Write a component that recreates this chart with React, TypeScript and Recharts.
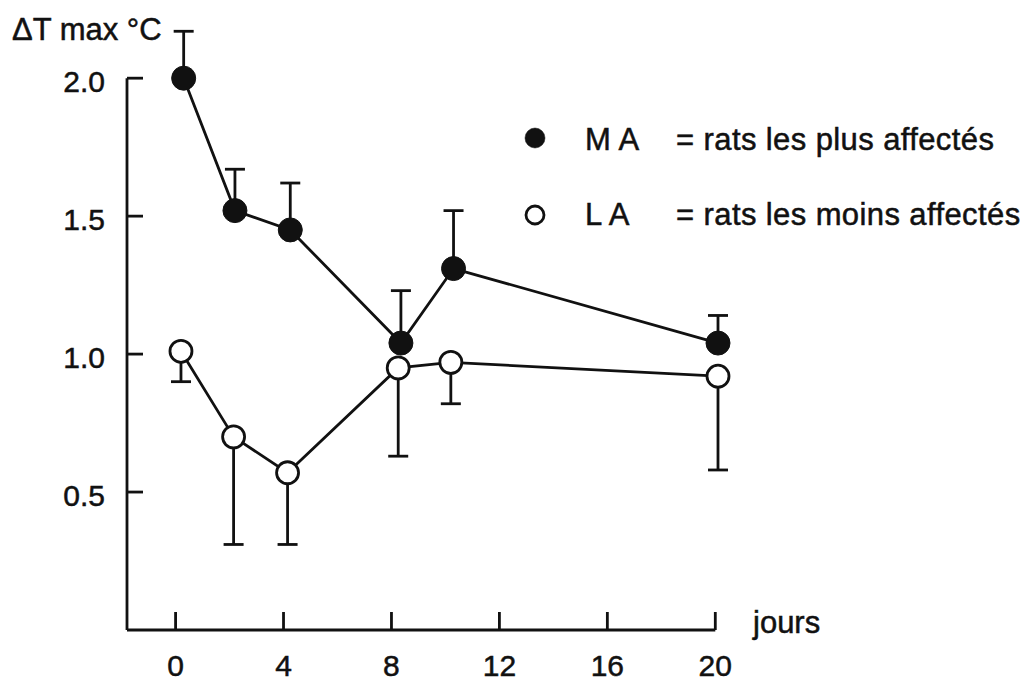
import React from "react";
import { LineChart, Line, XAxis, YAxis, ErrorBar, ReferenceLine, Legend, Label } from "recharts";

const font = '"Liberation Sans", Arial, Helvetica, sans-serif';
const ink = "#111";
const textStyle = { stroke: ink, strokeWidth: 0.5 };

// x ticks (jours) and y ticks (ΔT max °C)
const dayTicks = [0, 4, 8, 12, 16, 20];
const deltaTicks = [0.5, 1.0, 1.5, 2.0];

// MA = rats les plus affectés (error bar upward)
const maDays = [0.3, 2.2, 4.25, 8.35, 10.3, 20.1];
const maDelta = [2.0, 1.52, 1.45, 1.04, 1.31, 1.04];
const maErr = [0.17, 0.15, 0.17, 0.19, 0.21, 0.1];

// LA = rats les moins affectés (error bar downward)
const laDays = [0.2, 2.15, 4.15, 8.25, 10.2, 20.1];
const laDelta = [1.01, 0.7, 0.57, 0.95, 0.97, 0.92];
const laErr = [0.11, 0.39, 0.26, 0.32, 0.15, 0.34];

const maData = maDays.map((d, i) => ({ day: d, delta: maDelta[i], err: [0, maErr[i]] }));
const laData = laDays.map((d, i) => ({ day: d, delta: laDelta[i], err: [laErr[i], 0] }));

const X_MIN = -1.8;
const X_MAX = 20.1;

const YTick = ({ x, y, payload }: any) => (
  <g>
    <line x1={x} y1={y} x2={x + 16} y2={y} stroke={ink} strokeWidth={2.8} />
    <text x={x - 22} y={y + 14} textAnchor="end" fontSize={30} fontFamily={font} fill={ink} style={textStyle}>
      {Number(payload.value).toFixed(1)}
    </text>
  </g>
);

const XTick = ({ x, y, payload }: any) => (
  <g>
    <line x1={x} y1={y} x2={x} y2={y - 18} stroke={ink} strokeWidth={2.8} />
    <text x={x} y={y + 46} textAnchor="middle" fontSize={30} fontFamily={font} fill={ink} style={textStyle}>
      {payload.value}
    </text>
  </g>
);

const LegendBox = () => (
  <svg width={520} height={130} style={{ display: "block" }}>
    <g fontFamily={font} fontSize={31} fill={ink} style={textStyle} letterSpacing={0.4}>
      <circle cx={25} cy={28} r={10} fill={ink} />
      <text x={75} y={40}>M A</text>
      <text x={166} y={40}>= rats les plus affectés</text>
      <circle cx={25} cy={105} r={9} fill="#fff" stroke={ink} strokeWidth={2.8} />
      <text x={75} y={115}>L A</text>
      <text x={166} y={115}>= rats les moins affectés</text>
    </g>
  </svg>
);

export default function App() {
  return (
    <div style={{ position: "absolute", left: 0, top: 0, width: 1028, height: 686, background: "#fff" }}>
      <LineChart width={1028} height={686} margin={{ top: 23, right: 310, bottom: 0, left: 0 }}>
        <XAxis
          dataKey="day"
          type="number"
          domain={[X_MIN, X_MAX]}
          ticks={dayTicks}
          interval={0}
          height={56}
          axisLine={false}
          tickLine={false}
          tickSize={0}
          tickMargin={0}
          tick={<XTick />}
        >
          <Label
            content={() => (
              <text x={753} y={633} fontSize={31} fontFamily={font} fill={ink} style={textStyle}>
                jours
              </text>
            )}
          />
        </XAxis>
        <YAxis
          dataKey="delta"
          type="number"
          domain={[0, 2.2]}
          ticks={deltaTicks}
          interval={0}
          width={127}
          axisLine={false}
          tickLine={false}
          tickSize={0}
          tickMargin={0}
          tick={<YTick />}
        >
          <Label
            content={() => (
              <text x={12} y={40} fontSize={31} fontFamily={font} fill={ink} style={textStyle}>
                ΔT max °C
              </text>
            )}
          />
        </YAxis>
        <ReferenceLine
          segment={[{ x: X_MIN, y: 0 }, { x: X_MIN, y: 2 }]}
          stroke={ink}
          strokeWidth={2.8}
          ifOverflow="visible"
        />
        <ReferenceLine
          segment={[{ x: X_MIN, y: 0 }, { x: 20, y: 0 }]}
          stroke={ink}
          strokeWidth={2.8}
          ifOverflow="visible"
        />
        <Legend
          layout="vertical"
          align="center"
          verticalAlign="middle"
          content={() => <LegendBox />}
          wrapperStyle={{ left: 510, top: 110, width: 520, height: 130 }}
        />
        <Line
          data={maData}
          dataKey="delta"
          name="MA"
          type="linear"
          stroke={ink}
          strokeWidth={2.8}
          dot={{ r: 12, fill: ink, stroke: ink, strokeWidth: 1 }}
          activeDot={false}
          isAnimationActive={false}
        >
          <ErrorBar dataKey="err" direction="y" width={10} stroke={ink} strokeWidth={2.8} isAnimationActive={false} />
        </Line>
        <Line
          data={laData}
          dataKey="delta"
          name="LA"
          type="linear"
          stroke={ink}
          strokeWidth={2.8}
          dot={{ r: 11, fill: "#fff", stroke: ink, strokeWidth: 2.8 }}
          activeDot={false}
          isAnimationActive={false}
        >
          <ErrorBar dataKey="err" direction="y" width={10} stroke={ink} strokeWidth={2.8} isAnimationActive={false} />
        </Line>
      </LineChart>
    </div>
  );
}
